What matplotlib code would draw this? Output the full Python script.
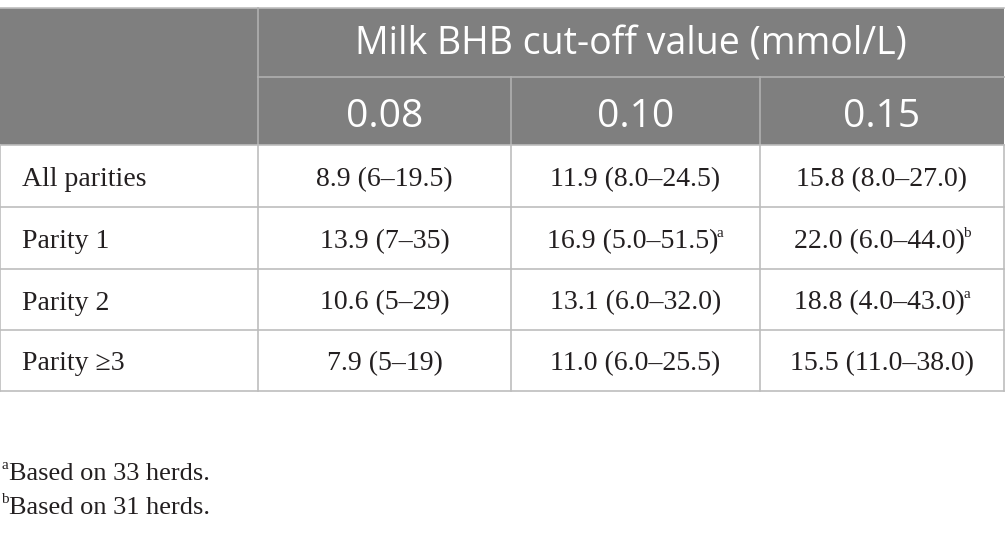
import matplotlib.pyplot as plt
from matplotlib.patches import Rectangle

# table content
group_title = "Milk BHB cut-off value (mmol/L)"
cutoffs = ["0.08", "0.10", "0.15"]
row_labels = ["All parities", "Parity 1", "Parity 2", "Parity \u22653"]
col_008 = ["8.9 (6\u201319.5)", "13.9 (7\u201335)", "10.6 (5\u201329)", "7.9 (5\u201319)"]
col_010 = ["11.9 (8.0\u201324.5)", "16.9 (5.0\u201351.5)", "13.1 (6.0\u201332.0)", "11.0 (6.0\u201325.5)"]
col_015 = ["15.8 (8.0\u201327.0)", "22.0 (6.0\u201344.0)", "18.8 (4.0\u201343.0)", "15.5 (11.0\u201338.0)"]
marks_010 = ["", "a", "", ""]
marks_015 = ["", "b", "a", ""]
footnotes = [("a", "Based on 33 herds."), ("b", "Based on 31 herds.")]

W, H = 1005, 535
fig = plt.figure(figsize=(W / 100, H / 100), dpi=100)
ax = fig.add_axes([0, 0, 1, 1])
ax.set_xlim(0, W)
ax.set_ylim(H, 0)
ax.axis("off")
renderer = fig.canvas.get_renderer()

serif = "Liberation Serif"
sans = "Open Sans"
ink = "#231f20"
grid = "#bdbdbd"
head_bg = "#7f7f7f"
head_line = "#b0b0b0"
body_size = 20
sup_size = 11

col_x = [0, 258, 511, 760, 1004]
top, h1, h2 = 8, 77, 145
row_y = [145, 207, 269, 330, 391]


def width(t):
    bb = t.get_window_extent(renderer)
    return bb.width  # 1 px == 1 data unit here


def sup(x, y, m):
    return ax.text(x, y - 11, m, fontsize=sup_size, family=serif, ha="left",
                   va="baseline", color=ink)


# header background
ax.add_patch(Rectangle((0, top), W - 1, h2 - top, color=head_bg, lw=0))
ax.plot([0, W - 1], [top, top], color=grid, lw=1.2)
ax.plot([col_x[1], col_x[4]], [h1, h1], color=head_line, lw=1.2)
ax.plot([col_x[1], col_x[1]], [top, h2], color=head_line, lw=1.2)
for x in col_x[2:4]:
    ax.plot([x, x], [h1, h2], color=head_line, lw=1.2)

ax.text((col_x[1] + col_x[4]) / 2, 55, group_title, color="white",
        fontsize=27, family=sans, ha="center", va="baseline")
for i, c in enumerate(cutoffs):
    ax.text((col_x[i + 1] + col_x[i + 2]) / 2, 127, c, color="white",
            fontsize=28, family=sans, ha="center", va="baseline")

# body grid
for y in row_y:
    ax.plot([0, W - 1], [y, y], color=grid, lw=1.2)
for x in col_x:
    ax.plot([x, x], [row_y[0], row_y[-1]], color=grid, lw=1.2)

cols = [col_008, col_010, col_015]
marks = [[""] * 4, marks_010, marks_015]
for r, lab in enumerate(row_labels):
    yb = (row_y[r] + row_y[r + 1]) / 2 + 10
    ax.text(22, yb, lab, fontsize=body_size, family=serif, ha="left", va="baseline", color=ink)
    for c in range(3):
        xc = (col_x[c + 1] + col_x[c + 2]) / 2
        t = ax.text(xc, yb, cols[c][r], fontsize=body_size, family=serif,
                    ha="left", va="baseline", color=ink)
        tw = width(t)
        sw = 0
        if marks[c][r]:
            s = sup(0, yb, marks[c][r])
            sw = width(s) - 2
            s.set_x(xc - (tw + sw) / 2 + tw - 2)
        t.set_x(xc - (tw + sw) / 2)

# footnotes
for i, (m, txt) in enumerate(footnotes):
    yb = 480 + i * 34
    sup(1, yb, m)
    ax.text(9, yb, txt, fontsize=19, family=serif, ha="left", va="baseline", color=ink)

fig.savefig("out.png", dpi=100)
